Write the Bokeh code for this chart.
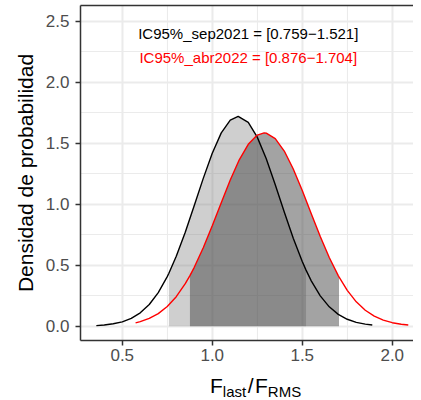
import numpy as np
from bokeh.plotting import figure
from bokeh.layouts import column
from bokeh.models import (Range1d, SingleIntervalTicker, PrintfTickFormatter, LinearAxis,
                          FixedTicker, Div)
from bokeh.core.properties import value
from bokeh.embed import file_html
from bokeh.resources import INLINE

# ---- data ----
sep_x = [0.356, 0.40, 0.45, 0.50, 0.55, 0.60, 0.65, 0.70, 0.75, 0.759, 0.80, 0.85, 0.90, 0.95,
         1.00, 1.05, 1.10, 1.144, 1.20, 1.25, 1.30, 1.35, 1.40, 1.45, 1.50, 1.521, 1.55, 1.60,
         1.65, 1.70, 1.75, 1.80, 1.85, 1.889]
sep_y = [0.005, 0.010, 0.020, 0.036, 0.065, 0.110, 0.178, 0.276, 0.407, 0.434, 0.573, 0.770, 0.989, 1.212,
         1.418, 1.585, 1.689, 1.720, 1.671, 1.550, 1.372, 1.160, 0.936, 0.721, 0.530, 0.460, 0.372, 0.249,
         0.159, 0.097, 0.057, 0.032, 0.017, 0.010]

abr_x = [0.574, 0.60, 0.65, 0.70, 0.75, 0.80, 0.85, 0.876, 0.90, 0.95, 1.00, 1.05, 1.10, 1.15,
         1.20, 1.25, 1.288, 1.30, 1.35, 1.40, 1.45, 1.50, 1.55, 1.60, 1.65, 1.70, 1.704, 1.75,
         1.80, 1.85, 1.90, 1.95, 2.00, 2.05, 2.089]
abr_y = [0.028, 0.038, 0.064, 0.103, 0.162, 0.242, 0.349, 0.415, 0.483, 0.643, 0.823, 1.013, 1.199, 1.364,
         1.491, 1.567, 1.585, 1.583, 1.538, 1.436, 1.289, 1.112, 0.922, 0.735, 0.563, 0.415, 0.404, 0.294,
         0.200, 0.131, 0.083, 0.050, 0.029, 0.016, 0.010]

ci_sep = [0.759, 1.521]
ci_abr = [0.876, 1.704]

labels = ["IC95%_sep2021 = [0.759\u22121.521]", "IC95%_abr2022 = [0.876\u22121.704]"]
label_x = [1.2, 1.2]
label_y = [2.4, 2.2]
label_colors = ["black", "red"]

y_title = "Densidad de probabilidad"
x_title_main = ["F", "/", "F"]
x_title_sub = ["last", "RMS"]

FONT = "Liberation Sans"

p = figure(width=413, height=370, output_backend="svg", toolbar_location=None,
           x_range=Range1d(0.268, 2.118), y_range=Range1d(-0.117, 2.629),
           min_border_left=80, min_border_right=0, min_border_top=5, min_border_bottom=30)
p.outline_line_color = None
p.background_fill_color = "white"
p.border_fill_color = "white"

for ax in (p.xaxis[0], p.yaxis[0]):
    ax.ticker = SingleIntervalTicker(interval=0.5, num_minor_ticks=2)
    ax.formatter = PrintfTickFormatter(format="%.1f")
    ax.axis_line_color = "#333333"
    ax.axis_line_width = 1.5
    ax.major_tick_line_color = "#333333"
    ax.major_tick_line_width = 1.5
    ax.major_tick_out = 5
    ax.major_tick_in = 0
    ax.minor_tick_line_color = None
    ax.major_label_text_font = FONT
    ax.major_label_text_font_size = "17px"
    ax.major_label_text_color = "#4d4d4d"
p.xaxis.major_label_standoff = 3
p.yaxis.major_label_standoff = 6
p.yaxis.axis_label = y_title
p.yaxis.axis_label_text_font = FONT
p.yaxis.axis_label_text_font_size = "21px"
p.yaxis.axis_label_text_font_style = "normal"
p.yaxis.axis_label_text_color = "black"
p.yaxis.axis_label_standoff = 6

top_axis = LinearAxis(ticker=FixedTicker(ticks=[]), axis_line_color="#333333", axis_line_width=1.5,
                      major_tick_out=0, major_tick_in=0, minor_tick_out=0, minor_tick_in=0,
                      major_label_standoff=0, major_label_text_font_size="0px")
p.add_layout(top_axis, "above")

for g in (p.xgrid[0], p.ygrid[0]):
    g.grid_line_color = "#ebebeb"
    g.grid_line_width = 2
    g.minor_grid_line_color = "#ebebeb"
    g.minor_grid_line_width = 1.1

sx = np.array(sep_x); sy = np.array(sep_y)
rx = np.array(abr_x); ry = np.array(abr_y)
m1 = (sx >= ci_sep[0]) & (sx <= ci_sep[1])
m2 = (rx >= ci_abr[0]) & (rx <= ci_abr[1])

p.varea(x=sx[m1], y1=np.zeros(m1.sum()), y2=sy[m1], fill_color="#7f7f7f", fill_alpha=0.375)
p.varea(x=rx[m2], y1=np.zeros(m2.sum()), y2=ry[m2], fill_color="#3f3f3f", fill_alpha=0.48)
p.line(sep_x, sep_y, line_color="black", line_width=1.4)
p.line(abr_x, abr_y, line_color="red", line_width=1.4)

p.text(x=label_x, y=label_y, text=labels, text_color=label_colors,
       text_font=value(FONT), text_font_size="15px", text_align="center", text_baseline="middle")

sub = '<span style="font-size:15px;vertical-align:-4px">{}</span>'
xt_html = (
    '<div style="font-family:\'Liberation Sans\';font-size:21px;line-height:21px;'
    'white-space:nowrap;padding-left:205px;margin:0;color:black">'
    + x_title_main[0] + sub.format(x_title_sub[0])
    + '<span style="margin-left:1.5px">' + x_title_main[1] + '</span>'
    + '<span style="margin-left:1.5px">' + x_title_main[2] + '</span>'
    + sub.format(x_title_sub[1]) + '</div>'
)
xdiv = Div(text=xt_html, width=413, height=22)

layout = column(p, xdiv, spacing=0)
open("out.html", "w").write(file_html(layout, INLINE))
